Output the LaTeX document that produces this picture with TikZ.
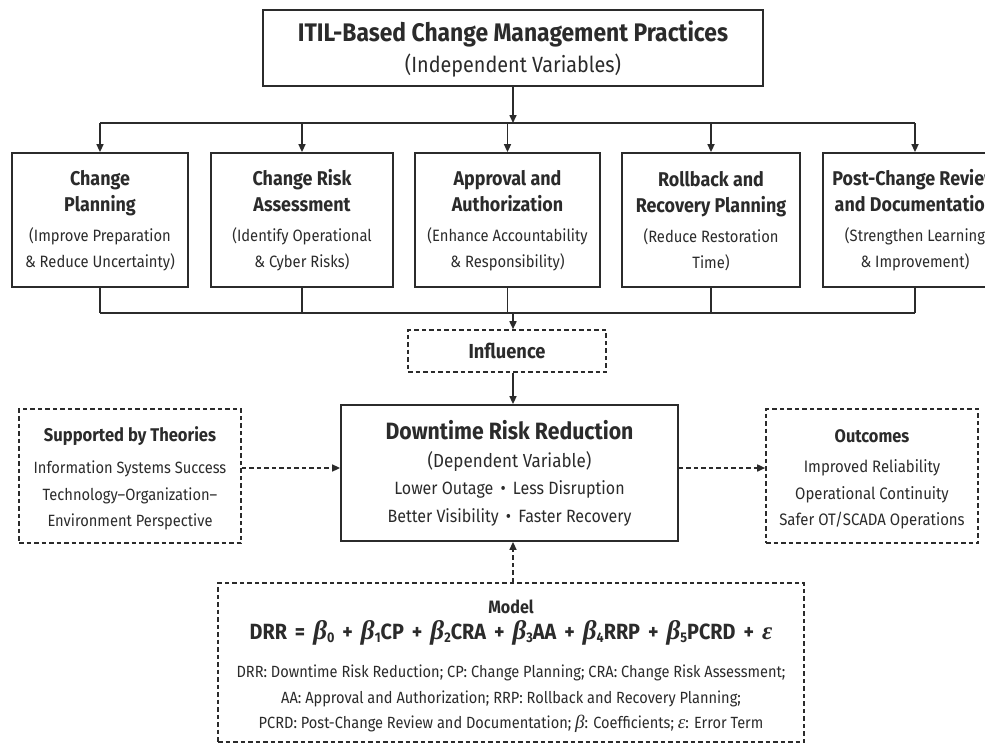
\documentclass[tikz,border=0pt]{standalone}
\usepackage{fontspec}
\setmainfont{Fira Sans}[FakeStretch=0.9]
\newfontfamily\grk{Liberation Serif}
\usetikzlibrary{arrows.meta}
\definecolor{ink}{HTML}{2B2B2B}
\newcommand\fsz[2]{\fontsize{#1}{#2}\selectfont}
% bold italic beta with a small subscript
\newcommand\bcoef[1]{{\grk\bfseries\itshape\fsz{27}{27}β}\raisebox{-0.3ex}{\fsz{14}{14}#1}}
\newcommand\op[1]{\hspace{8pt}#1\hspace{8pt}}
% invisible strut that raises the first line of a block
\newcommand\topstrut[1]{\rule{0pt}{#1}}
\begin{document}
\begin{tikzpicture}[x=1pt,y=-1pt,
  solidbox/.style={draw=ink, line width=1.8pt, fill=white, inner sep=0pt, align=center, text=ink},
  dashbox/.style={draw=ink, line width=1.6pt, dash pattern=on 4.5pt off 3pt, fill=white, inner sep=0pt, align=center, text=ink},
  practice/.style={solidbox, minimum height=134pt, font=\fsz{16.4}{26}},
  link/.style={draw=ink, line width=1.6pt},
  arrowlink/.style={link, -{Triangle[length=8pt,width=7pt]}},
  dasharrow/.style={arrowlink, dash pattern=on 4.5pt off 3pt},
]
\useasboundingbox (0,0) rectangle (985,744);
\fill[white] (0,0) rectangle (985,744);

% independent variables
\node[solidbox, minimum width=500pt, minimum height=76pt, font=\fsz{22}{30.5}] (itil) at (513,48)
  {\topstrut{23pt}{\bfseries\fsz{25.4}{29}ITIL-Based Change Management Practices}\\
   (Independent Variables)};

% the five practices
\node[practice, minimum width=176pt] (cp) at (100,220)
  {\topstrut{17pt}{\bfseries\fsz{19.9}{27}Change}\\{\bfseries\fsz{19.9}{26}Planning}\\[4pt]
   (Improve Preparation\\\& Reduce Uncertainty)};
\node[practice, minimum width=182pt] (cra) at (302,220)
  {\topstrut{17pt}{\bfseries\fsz{19.9}{27}Change Risk}\\{\bfseries\fsz{19.9}{26}Assessment}\\[4pt]
   (Identify Operational\\\& Cyber Risks)};
\node[practice, minimum width=185pt] (aa) at (507.5,220)
  {\topstrut{17pt}{\bfseries\fsz{19.9}{27}Approval and}\\{\bfseries\fsz{19.9}{26}Authorization}\\[4pt]
   (Enhance Accountability\\\& Responsibility)};
\node[practice, minimum width=178pt] (rrp) at (711,220)
  {\topstrut{17pt}{\bfseries\fsz{19.9}{27}Rollback and}\\{\bfseries\fsz{19.9}{26}Recovery Planning}\\[4pt]
   (Reduce Restoration\\Time)};
\node[practice, minimum width=184pt] (pcrd) at (915,220)
  {\topstrut{17pt}{\bfseries\fsz{19.9}{27}Post-Change Review}\\{\bfseries\fsz{19.9}{26}and Documentation}\\[4pt]
   (Strengthen Learning\\\& Improvement)};

% distribution bus
\coordinate (topbus) at (513,123);
\draw[link] (cp.north |- topbus) -- (pcrd.north |- topbus);
\draw[arrowlink] (itil.south -| topbus) -- (topbus);
\foreach \n in {cp,cra,aa,rrp,pcrd}
  \draw[arrowlink] (\n.north |- topbus) -- (\n.north);

% collection bus
\coordinate (lowbus) at (513,313);
\foreach \n in {cp,cra,aa,rrp,pcrd}
  \draw[link] (\n.south) -- (\n.south |- lowbus);
\draw[link] (cp.south |- lowbus) -- (pcrd.south |- lowbus);

\node[dashbox, minimum width=198pt, minimum height=42pt, font=\bfseries\fsz{20.3}{24}] (infl) at (507,351) {Influence};
\draw[arrowlink] (lowbus) -- (lowbus |- infl.north);

% dependent variable
\node[solidbox, minimum width=337pt, minimum height=136pt, font=\fsz{17.8}{27.5}] (drr) at (509.5,473)
  {\topstrut{20pt}{\bfseries\fsz{23.6}{29}Downtime Risk Reduction}\\
   {\fsz{18.9}{29}(Dependent Variable)}\\
   Lower Outage \,•\, Less Disruption\\
   Better Visibility \,•\, Faster Recovery};
\draw[arrowlink] (infl.south -| lowbus) -- (drr.north -| lowbus);

% theories
\node[dashbox, minimum width=222pt, minimum height=134pt, font=\fsz{16.3}{26.5}] (theo) at (130,476)
  {\topstrut{19.5pt}{\bfseries\fsz{18.4}{26}Supported by Theories}\\[6pt]
   Information Systems Success\\
   Technology–Organization–\\
   Environment Perspective};
\draw[dasharrow] (theo.east |- 0,468) -- (drr.west |- 0,468);

% outcomes
\node[dashbox, minimum width=212pt, minimum height=134pt, font=\fsz{16.6}{26.5}] (outc) at (872,476)
  {\topstrut{19.5pt}{\bfseries\fsz{18.2}{26}Outcomes}\\[4pt]
   Improved Reliability\\
   Operational Continuity\\
   Safer OT/SCADA Operations};
\draw[dasharrow] (drr.east |- 0,468) -- (outc.west |- 0,468);

% regression model
\node[dashbox, minimum width=586pt, minimum height=159pt, font=\fsz{16.2}{25.5}] (model) at (511,662.5)
  {\topstrut{22pt}{\bfseries\fsz{17.9}{28}Model}\\
   {\bfseries\fsz{22}{34}DRR\op{=}\bcoef{0}\op{+}\bcoef{1}CP\op{+}\bcoef{2}CRA\op{+}\bcoef{3}AA\op{+}\bcoef{4}RRP\op{+}\bcoef{5}PCRD\op{+}{\grk\itshape\fsz{25}{25}ε}}\\[13pt]
   DRR: Downtime Risk Reduction; CP: Change Planning; CRA: Change Risk Assessment;\\
   AA: Approval and Authorization; RRP: Rollback and Recovery Planning;\\
   PCRD: Post-Change Review and Documentation; {\grk\itshape\fsz{19}{19}β}: Coefficients; {\grk\itshape\fsz{19}{19}ε}: Error Term};
\draw[dasharrow] (model.north -| 513,0) -- (drr.south -| 513,0);
\end{tikzpicture}
\end{document}
